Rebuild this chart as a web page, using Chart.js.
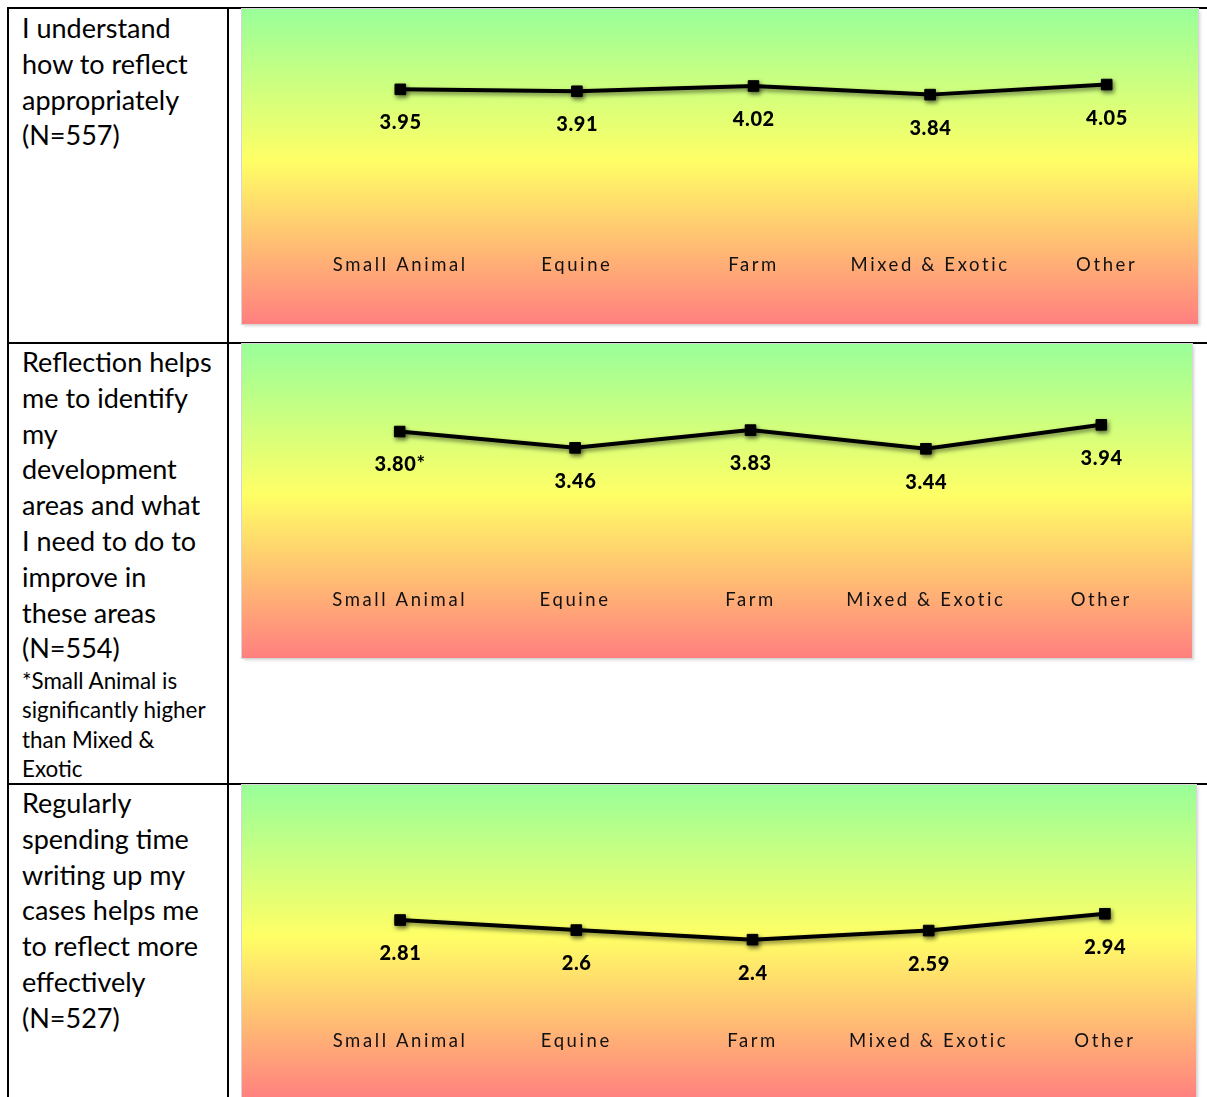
<!DOCTYPE html>
<html>
<head>
<meta charset="utf-8">
<script src="https://cdn.jsdelivr.net/npm/chart.js@4.4.1/dist/chart.umd.min.js"></script>
<style>
  html, body { margin: 0; padding: 0; background: #fff; }
  body { width: 1207px; height: 1097px; position: relative; overflow: hidden; font-family: Lato, sans-serif; color: #000; }
  .hline { position: absolute; left: 7px; width: 1200px; height: 2px; background: #000; }
  .vline { position: absolute; top: 7px; width: 2px; height: 1090px; background: #000; }
  .cell { position: absolute; left: 22px; font-size: 27px; line-height: 35.8px; white-space: nowrap; }
  .note { position: absolute; left: 22px; font-size: 22.4px; line-height: 29.3px; white-space: nowrap; }
  .box { position: absolute; left: 242px; box-shadow: 0 0 0 1px #d6d6d6, 2px 2px 3px rgba(0,0,0,0.18); }
  .box canvas { display: block; }
</style>
</head>
<body>
<div class="hline" style="top:7px"></div>
<div class="hline" style="top:342px"></div>
<div class="hline" style="top:783px"></div>
<div class="vline" style="left:7px"></div>
<div class="vline" style="left:227px"></div>

<div class="cell" style="top:10px">I understand<br>how to reflect<br>appropriately<br>(N=557)</div>
<div class="cell" style="top:344px">Reflection helps<br>me to identify<br>my<br>development<br>areas and what<br>I need to do to<br>improve in<br>these areas<br>(N=554)</div>
<div class="note" style="top:666px">*Small Animal is<br>significantly higher<br>than Mixed &amp;<br>Exotic</div>
<div class="cell" style="top:785px">Regularly<br>spending time<br>writing up my<br>cases helps me<br>to reflect more<br>effectively<br>(N=527)</div>

<div class="box" style="top:9px;width:956px;height:315px"><canvas id="reflect" width="956" height="315"></canvas></div>
<div class="box" style="top:344px;width:950px;height:314px"><canvas id="identify" width="950" height="314"></canvas></div>
<div class="box" style="top:785px;width:954px;height:315px"><canvas id="writing" width="954" height="315"></canvas></div>

<script>
// Practice areas shown along the x axis of every panel
const categories = ['Small Animal', 'Equine', 'Farm', 'Mixed & Exotic', 'Other'];

// Mean agreement scores (1-5 scale) per practice area
const reflectValues = [3.95, 3.91, 4.02, 3.84, 4.05];
const reflectLabels = ['3.95', '3.91', '4.02', '3.84', '4.05'];

const identifyValues = [3.80, 3.46, 3.83, 3.44, 3.94];
const identifyLabels = ['3.80*', '3.46', '3.83', '3.44', '3.94'];

const writingValues = [2.81, 2.6, 2.4, 2.59, 2.94];
const writingLabels = ['2.81', '2.6', '2.4', '2.59', '2.94'];

const scaleMin = 1;
const scaleMax = 5;

// Gradient panel background, soft line shadow and value labels under each point
const panelPlugin = {
  id: 'panel',
  beforeDraw(chart) {
    const { ctx, width, height } = chart;
    const g = ctx.createLinearGradient(0, 0, 0, height);
    g.addColorStop(0, '#99ff99');
    g.addColorStop(0.48, '#ffff66');
    g.addColorStop(1, '#ff7f7f');
    ctx.save();
    ctx.fillStyle = g;
    ctx.fillRect(0, 0, width, height);
    ctx.restore();
    ctx.letterSpacing = '2.6px';
  },
  beforeDatasetDraw(chart) {
    const ctx = chart.ctx;
    ctx.save();
    ctx.shadowColor = 'rgba(0,0,0,0.5)';
    ctx.shadowBlur = 4;
    ctx.shadowOffsetX = 1.5;
    ctx.shadowOffsetY = 2.5;
  },
  afterDatasetDraw(chart) {
    chart.ctx.restore();
  },
  afterDatasetsDraw(chart, args, opts) {
    const ctx = chart.ctx;
    const meta = chart.getDatasetMeta(0);
    const spacing = 0.6;
    ctx.save();
    ctx.letterSpacing = spacing + 'px';
    ctx.font = '900 20px Lato';
    ctx.fillStyle = '#000';
    ctx.textAlign = 'center';
    ctx.textBaseline = 'middle';
    meta.data.forEach((pt, i) => {
      ctx.fillText(opts.labels[i], pt.x + spacing / 2, pt.y + 33.5);
    });
    ctx.restore();
  }
};

function makeChart(id, values, labels, bottomPad) {
  return new Chart(document.getElementById(id), {
    type: 'line',
    data: {
      labels: categories,
      datasets: [{
        data: values,
        borderColor: '#000',
        borderWidth: 4,
        pointStyle: 'rect',
        pointRadius: 7.5,
        pointBackgroundColor: '#000',
        pointBorderColor: '#000',
        pointBorderWidth: 1,
        tension: 0,
        clip: false
      }]
    },
    options: {
      responsive: false,
      animation: false,
      devicePixelRatio: 1,
      layout: { autoPadding: false, padding: { left: 70, right: 3, top: 30, bottom: bottomPad } },
      plugins: {
        legend: { display: false },
        tooltip: { enabled: false },
        panel: { labels: labels }
      },
      scales: {
        x: {
          offset: true,
          grid: { display: false, drawTicks: false },
          border: { display: false },
          ticks: {
            color: '#111',
            font: { family: 'Lato', size: 18.5 },
            padding: 23.5,
            maxRotation: 0,
            autoSkip: false
          }
        },
        y: { display: false, min: scaleMin, max: scaleMax }
      }
    },
    plugins: [panelPlugin]
  });
}

makeChart('reflect', reflectValues, reflectLabels, 24);
makeChart('identify', identifyValues, identifyLabels, 23);
makeChart('writing', writingValues, writingLabels, 24);
</script>
</body>
</html>
